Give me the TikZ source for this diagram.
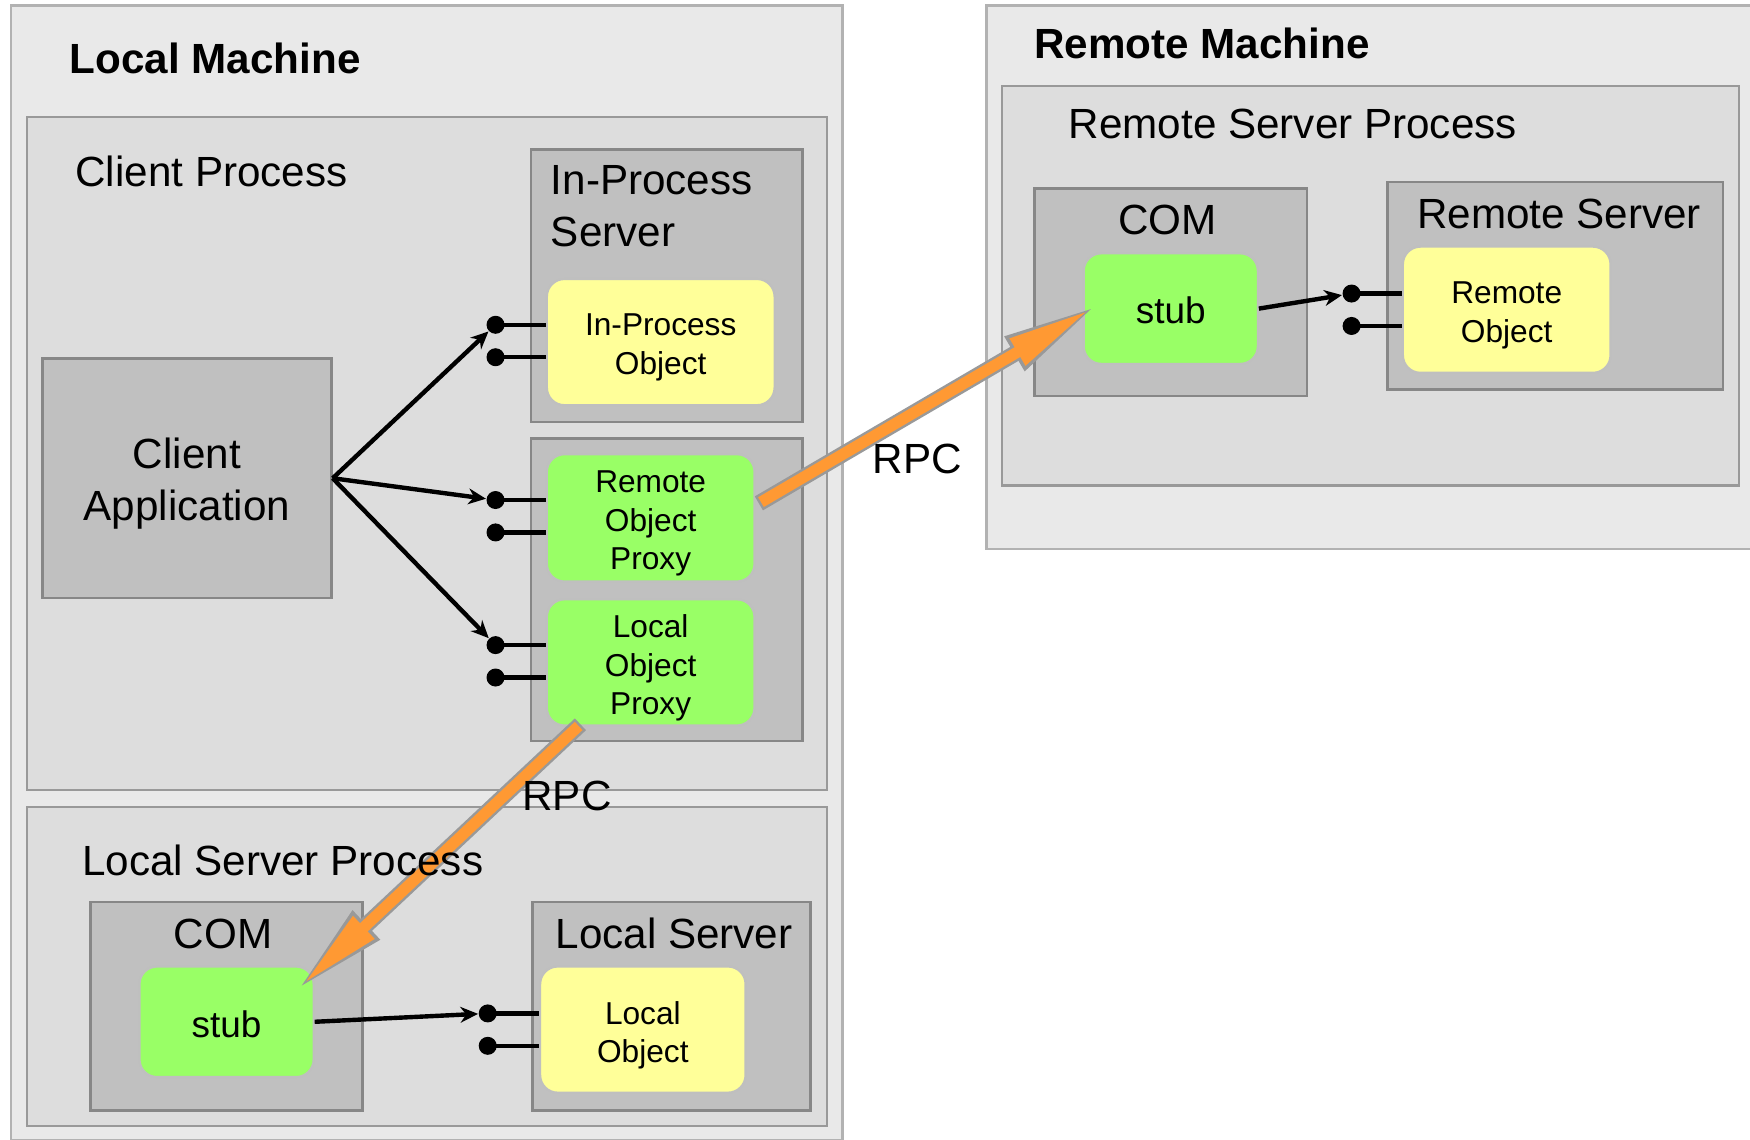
\documentclass[tikz,border=0pt]{standalone}
\usepackage{fontspec}
\setmainfont{Liberation Sans}
\usetikzlibrary{positioning,fit,calc,arrows.meta}

\definecolor{machinefill}{HTML}{E9E9E9}
\definecolor{processfill}{HTML}{DDDDDD}
\definecolor{serverfill}{HTML}{C0C0C0}
\definecolor{objyellow}{HTML}{FFFF99}
\definecolor{objgreen}{HTML}{99FF66}
\definecolor{rpcorange}{HTML}{FF9933}

\begin{document}
\begin{tikzpicture}[
		x=0.01116cm, y=-0.01116cm,
		>={Stealth[length=5pt,width=4.5pt]},
		machine/.style={draw=black!30, fill=machinefill, line width=0.7pt, inner sep=0pt},
		process/.style={draw=black!40, fill=processfill, line width=0.7pt, inner sep=0pt},
		server/.style={draw=black!47, fill=serverfill, line width=0.7pt, inner sep=0pt},
		object/.style={draw=black!25, rounded corners=5pt, line width=0.6pt, inner sep=0pt},
		objtext/.style={inner sep=0pt, align=center, yshift=-1.6pt, font=\fontsize{9}{11}\selectfont},
		stubtext/.style={inner sep=0pt, yshift=-0.6pt, font=\fontsize{10.5}{12}\selectfont},
		title/.style={inner sep=0pt, font=\fontsize{12}{14.7}\selectfont},
		bold/.style={inner sep=0pt, font=\fontsize{12}{14.7}\selectfont\bfseries},
		dot/.style={circle, fill, inner sep=0pt, minimum size=0.18cm},
		stick/.style={line width=1.25pt},
		call/.style={->, line width=1.25pt},
		rpcout/.style={draw=black!40, line width=4.6pt, -{Triangle[length=28pt,width=10pt]}},
		rpcin/.style={draw=rpcorange, line width=3.2pt, -{Triangle[length=24pt,width=8pt]},
		shorten >=3pt, shorten <=0.7pt}
		]
		\useasboundingbox (0,0) rectangle (1568,1021);

		% local machine
		\node[machine, fit={(10,5) (755,1022)}](localM){};
		\node[process, fit={(24,105) (741,708)}](clientP){};
		\node[server, fit={(38,321) (297,536)}](clientApp){};
		\node[title, align=center, yshift=-1.6pt](clientAppT) at (clientApp.center){Client\\Application};
		\node[server, fit={(476,134) (719,378)}](ipServer){};
		\node[object, fill=objyellow, fit={(490,250) (694,363)}](ipObj){};
		\node[objtext](ipObjT) at (ipObj.center){In-Process\\Object};
		\node[server, fit={(476,393) (719,664)}](proxyBox){};
		\node[object, fill=objgreen, fit={(490,407) (676,521)}](proxyR){};
		\node[objtext](proxyRT) at (proxyR.center){Remote\\Object\\Proxy};
		\node[object, fill=objgreen, fit={(490,537) (676,650)}](proxyL){};
		\node[objtext](proxyLT) at (proxyL.center){Local\\Object\\Proxy};

		\node[process, fit={(24,723) (741,1009)}](localSP){};
		\node[server, fit={(81,808) (325,995)}](comL){};
		\node[object, fill=objgreen, fit={(125,866) (281,965)}](stubL){};
		\node[stubtext](stubLT) at (stubL.center){stub};
		\node[server, fit={(477,808) (726,995)}](localSrv){};
		\node[object, fill=objyellow, fit={(484,866) (668,979)}](localObj){};
		\node[objtext](localObjT) at (localObj.center){Local\\Object};

		% remote machine
		\node[machine, fit={(884,5) (1575,492)}](remoteM){};
		\node[process, fit={(898,77) (1558,435)}](remoteSP){};
		\node[server, fit={(927,169) (1171,355)}](comR){};
		\node[object, fill=objgreen, fit={(971,227) (1127,326)}](stubR){};
		\node[stubtext](stubRT) at (stubR.center){stub};
		\node[server, fit={(1243,163) (1544,349)}](remoteSrv){};
		\node[object, fill=objyellow, fit={(1257,221) (1443,334)}](remoteObj){};
		\node[objtext](remoteObjT) at (remoteObj.center){Remote\\Object};

		% interfaces
		\node[dot](ipA) at (444,291){};
		\node[dot, on grid, below=0.324cm of ipA](ipB){};
		\node[dot](prA) at (444,448){};
		\node[dot, on grid, below=0.324cm of prA](prB){};
		\node[dot](plA) at (444,578){};
		\node[dot, on grid, below=0.324cm of plA](plB){};
		\node[dot](loA) at (437,908){};
		\node[dot, on grid, below=0.324cm of loA](loB){};
		\node[dot](roA) at (1211,263){};
		\node[dot, on grid, below=0.324cm of roA](roB){};
		\foreach \d in {ipA,ipB} \draw[stick] (\d.center) -- (\d -| ipObj.west);
		\foreach \d in {prA,prB} \draw[stick] (\d.center) -- (\d -| proxyR.west);
		\foreach \d in {plA,plB} \draw[stick] (\d.center) -- (\d -| proxyL.west);
		\foreach \d in {loA,loB} \draw[stick] (\d.center) -- (\d -| localObj.west);
		\foreach \d in {roA,roB} \draw[stick] (\d.center) -- (\d -| remoteObj.west);

		\draw[call] (clientApp.east) -- (ipA);
		\draw[call] (clientApp.east) -- (prA);
		\draw[call] (clientApp.east) -- (plA);
		\draw[call] (stubL.east) -- (loA);
		\draw[call] (stubR.east) -- (roA);

		% rpc
		\draw[rpcout] ($(proxyR.east)+(3,-13)$) -- ($(stubR.west)+(15,-4)$);
		\draw[rpcin] ($(proxyR.east)+(3,-13)$) -- ($(stubR.west)+(15,-4)$);
		\draw[rpcout] ($(proxyL.south west)+(31,-2)$) -- ($(stubL.north east)+(-18,24)$);
		\draw[rpcin] ($(proxyL.south west)+(31,-2)$) -- ($(stubL.north east)+(-18,24)$);

		% labels
		\node[bold, anchor=base west](localT) at (62,66){Local Machine};
		\node[title, anchor=base west](clientT) at (67,167){Client Process};
		\node[title, anchor=west, align=left](ipServerT) at (493,185){In-Process\\Server};
		\node[title, anchor=base west](localSPT) at (73,784){Local Server Process};
		\node[title, anchor=base](comLT) at (200,850){COM};
		\node[title, anchor=base](localSrvT) at (604,850){Local Server};
		\node[bold, anchor=base west](remoteT) at (926,52){Remote Machine};
		\node[title, anchor=base west](remoteSPT) at (957,124){Remote Server Process};
		\node[title, anchor=base](comRT) at (1046,210){COM};
		\node[title, anchor=base](remoteSrvT) at (1397,205){Remote Server};
		\node[title](rpcRT) at (822,411){RPC};
		\node[title](rpcLT) at (508,713){RPC};
	\end{tikzpicture}
\end{document}
